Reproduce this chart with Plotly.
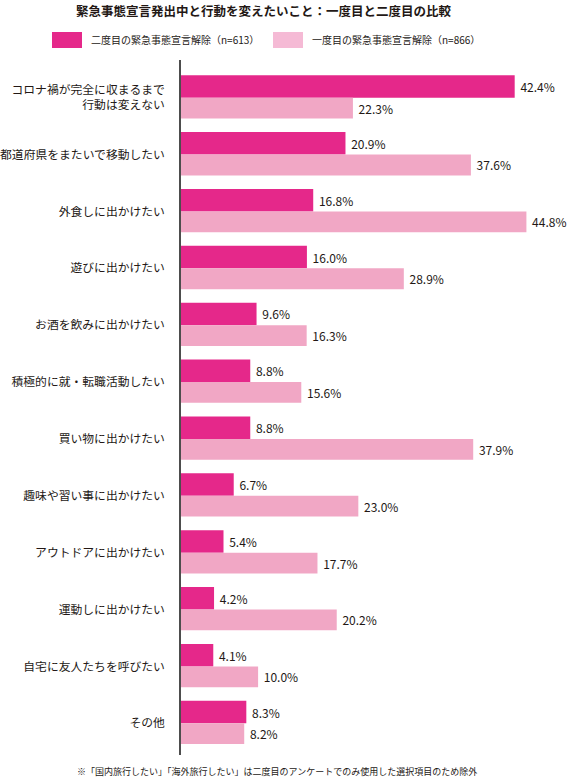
import plotly.graph_objects as go

categories = [
    "コロナ禍が完全に収まるまで<br>行動は変えない",
    "都道府県をまたいで移動したい",
    "外食しに出かけたい",
    "遊びに出かけたい",
    "お酒を飲みに出かけたい",
    "積極的に就・転職活動したい",
    "買い物に出かけたい",
    "趣味や習い事に出かけたい",
    "アウトドアに出かけたい",
    "運動しに出かけたい",
    "自宅に友人たちを呼びたい",
    "その他",
]
second_vals = [42.4, 20.9, 16.8, 16.0, 9.6, 8.8, 8.8, 6.7, 5.4, 4.2, 4.1, 8.3]
first_vals = [22.3, 37.6, 44.8, 28.9, 16.3, 15.6, 37.9, 23.0, 17.7, 20.2, 10.0, 8.2]
series_names = ["二度目の緊急事態宣言解除（n=613）", "一度目の緊急事態宣言解除（n=866）"]
title_text = "緊急事態宣言発出中と行動を変えたいこと：一度目と二度目の比較"
footnote = "※「国内旅行したい」「海外旅行したい」は二度目のアンケートでのみ使用した選択項目のため除外"

DARK = "#E5288A"
LIGHT = "#F1A7C5"
LIGHT_LEG = "#F5BAD5"
TXT = "#231815"
FONT = "Noto Sans CJK JP"

W, H = 570, 780
ML, MR, MT, MB = 181, 10, 60, 25
PW, PH = W - ML - MR, H - MT - MB


def px(x):
    return (x - ML) / PW


def py(y):
    return (H - MB - y) / PH


fig = go.Figure()
fig.add_trace(go.Bar(
    y=categories, x=second_vals, orientation="h", name=series_names[0],
    marker=dict(color=DARK, line=dict(width=0)),
    offset=-0.396, width=0.396,
    text=[f" {v:.1f}%" for v in second_vals], textposition="outside",
    textfont=dict(family=FONT, size=12, color=TXT),
    cliponaxis=False, showlegend=False, constraintext="none",
    xaxis="x", yaxis="y",
))
fig.add_trace(go.Bar(
    y=categories, x=first_vals, orientation="h", name=series_names[1],
    marker=dict(color=LIGHT, line=dict(width=0)),
    offset=0.0, width=0.366,
    text=[f" {v:.1f}%" for v in first_vals], textposition="outside",
    textfont=dict(family=FONT, size=12, color=TXT),
    cliponaxis=False, showlegend=False, constraintext="none",
    xaxis="x2", yaxis="y",
))

shapes = []
annotations = []
annotations.append(dict(x=px(264), y=py(10), xref="paper", yref="paper", text=f"<b>{title_text}</b>",
                        showarrow=False, xanchor="center", yanchor="middle",
                        font=dict(family=FONT, size=12.5, color=TXT)))
for (x0, x1, tx, col, name) in [(52, 82, 89, DARK, series_names[0]), (273, 303, 310, LIGHT_LEG, series_names[1])]:
    shapes.append(dict(type="rect", xref="paper", yref="paper", x0=px(x0), x1=px(x1), y0=py(48), y1=py(32),
                       fillcolor=col, line=dict(width=0)))
    annotations.append(dict(x=px(tx), y=py(40), xref="paper", yref="paper", text=name, showarrow=False,
                            xanchor="left", yanchor="middle", font=dict(family=FONT, size=10, color=TXT)))
annotations.append(dict(x=px(277), y=py(772), xref="paper", yref="paper", text=footnote, showarrow=False,
                        xanchor="center", yanchor="middle", font=dict(family=FONT, size=9, color=TXT)))

fig.update_layout(
    width=W, height=H,
    margin=dict(l=ML, r=MR, t=MT, b=MB, pad=0, autoexpand=False),
    paper_bgcolor="white", plot_bgcolor="white",
    barmode="overlay",
    showlegend=False,
    shapes=shapes, annotations=annotations,
    xaxis=dict(range=[0, PW / 7.87], visible=False, fixedrange=True, automargin=False),
    xaxis2=dict(range=[0, PW / 7.71], visible=False, fixedrange=True, automargin=False,
                overlaying="x", side="bottom"),
    yaxis=dict(range=[11.558, -0.663], showline=True, linecolor="#4d4d4d", linewidth=1.5,
               showgrid=False, zeroline=False, ticks="", ticklabelstandoff=12, automargin=False,
               tickfont=dict(family=FONT, size=11.8, color=TXT), fixedrange=True),
    font=dict(family=FONT),
)
fig.write_html("out.html", config={"displayModeBar": False},
               post_script="document.body.style.margin='0';document.body.style.padding='0';")
